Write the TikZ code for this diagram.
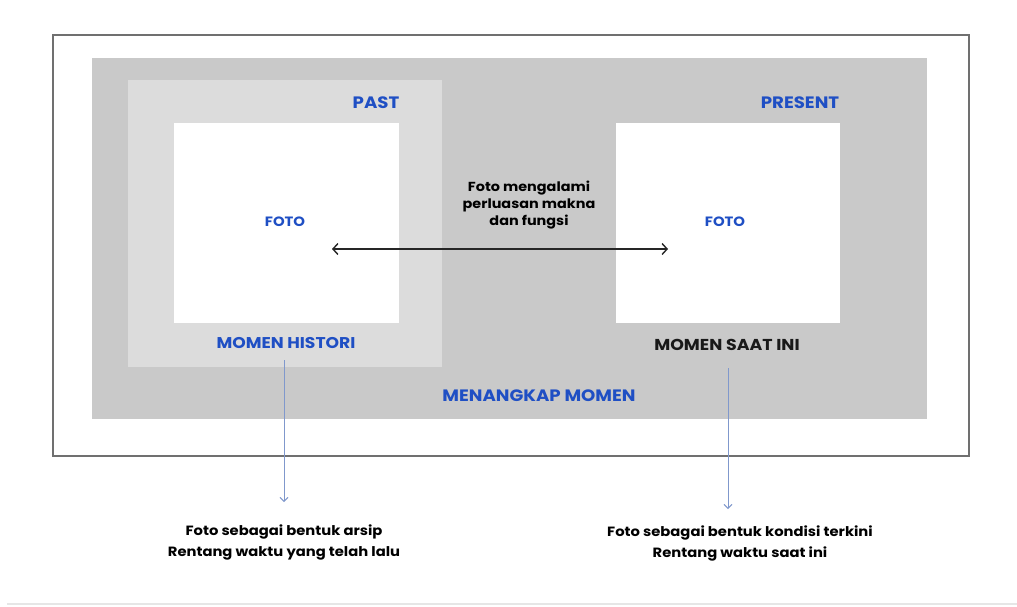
\documentclass[tikz,border=0pt]{standalone}
\usepackage{fontspec}
\setmainfont{Poppins}[BoldFont={Poppins Bold}, BoldFeatures={FakeStretch=1.1}]
\usetikzlibrary{arrows.meta}
\definecolor{outerline}{HTML}{707070}
\definecolor{graybg}{HTML}{C9C9C9}
\definecolor{lightbg}{HTML}{DCDCDC}
\definecolor{bluetxt}{HTML}{1F4FC4}
\definecolor{bluearrow}{HTML}{8098CC}
\definecolor{faint}{HTML}{E6E6E6}
\tikzset{
  heading/.style={font=\bfseries\fontsize{16.5}{19}\selectfont, text=bluetxt, inner sep=0pt},
  fototxt/.style={font=\bfseries\fontsize{13.5}{15}\selectfont, text=bluetxt, inner sep=0pt},
  midtxt/.style={font=\bfseries\fontsize{13.1}{17}\selectfont, align=center, inner sep=0pt},
  bottxt/.style={font=\bfseries\fontsize{13.4}{21}\selectfont, align=center, inner sep=0pt},
  bluearr/.style={draw=bluearrow, line width=0.9pt, -{Straight Barb[length=4pt,width=8pt]}},
  blackarr/.style={draw=black!85, line width=1.4pt, {Straight Barb[length=5pt,width=11pt]}-{Straight Barb[length=5pt,width=11pt]}}
}
\begin{document}
\begin{tikzpicture}[x=1pt,y=-1pt]
\useasboundingbox (0,0) rectangle (1017,606);
\fill[white] (0,0) rectangle (1017,606);
\draw[faint, line width=1.2pt] (7,604) -- (1017,604);
% boxes
\node[draw=outerline, line width=1.8pt, fill=white, minimum width=916pt, minimum height=421pt, inner sep=0pt] (outer) at (511,245.5) {};
\node[fill=graybg, minimum width=835pt, minimum height=361pt, inner sep=0pt] (gray) at (509.5,238.5) {};
\node[fill=lightbg, minimum width=314pt, minimum height=287pt, inner sep=0pt] (past) at (285,223.5) {};
\node[fill=white, minimum width=225pt, minimum height=200pt, inner sep=0pt] (pastfoto) at (286.5,223) {};
\node[fill=white, minimum width=224pt, minimum height=200pt, inner sep=0pt] (presfoto) at (728,223) {};
% labels
\node[heading] (pastlbl) at (376,103) {PAST};
\node[heading] (preslbl) at (800,103) {PRESENT};
\node[fototxt] (foto1) at (285,222) {FOTO};
\node[fototxt] (foto2) at (725,222) {FOTO};
\node[heading, font=\bfseries\fontsize{15.6}{19}\selectfont] (histori) at (286,343) {MOMEN HISTORI};
\node[heading, text=black!90, font=\bfseries\fontsize{15.8}{19}\selectfont] (saatini) at (727,345) {MOMEN SAAT INI};
\node[heading] (menangkap) at (539,396) {MENANGKAP MOMEN};
\node[midtxt] (mid) at (529,205) {Foto mengalami\\perluasan makna\\dan fungsi};
% double arrow
\coordinate (al) at (332,249);
\coordinate (ar) at (668,249);
\draw[blackarr] (al) -- (ar);
% bottom texts
\node[bottxt] (botl) at (284,542.5) {Foto sebagai bentuk arsip\\Rentang waktu yang telah lalu};
\node[bottxt] (botr) at (740,543.5) {Foto sebagai bentuk kondisi terkini\\Rentang waktu saat ini};
% blue arrows
\coordinate (bl1) at (284,360);
\coordinate (bl2) at (284,502);
\coordinate (br1) at (728,368);
\coordinate (br2) at (728,509);
\draw[bluearr] (bl1) -- (bl2);
\draw[bluearr] (br1) -- (br2);
\end{tikzpicture}
\end{document}
